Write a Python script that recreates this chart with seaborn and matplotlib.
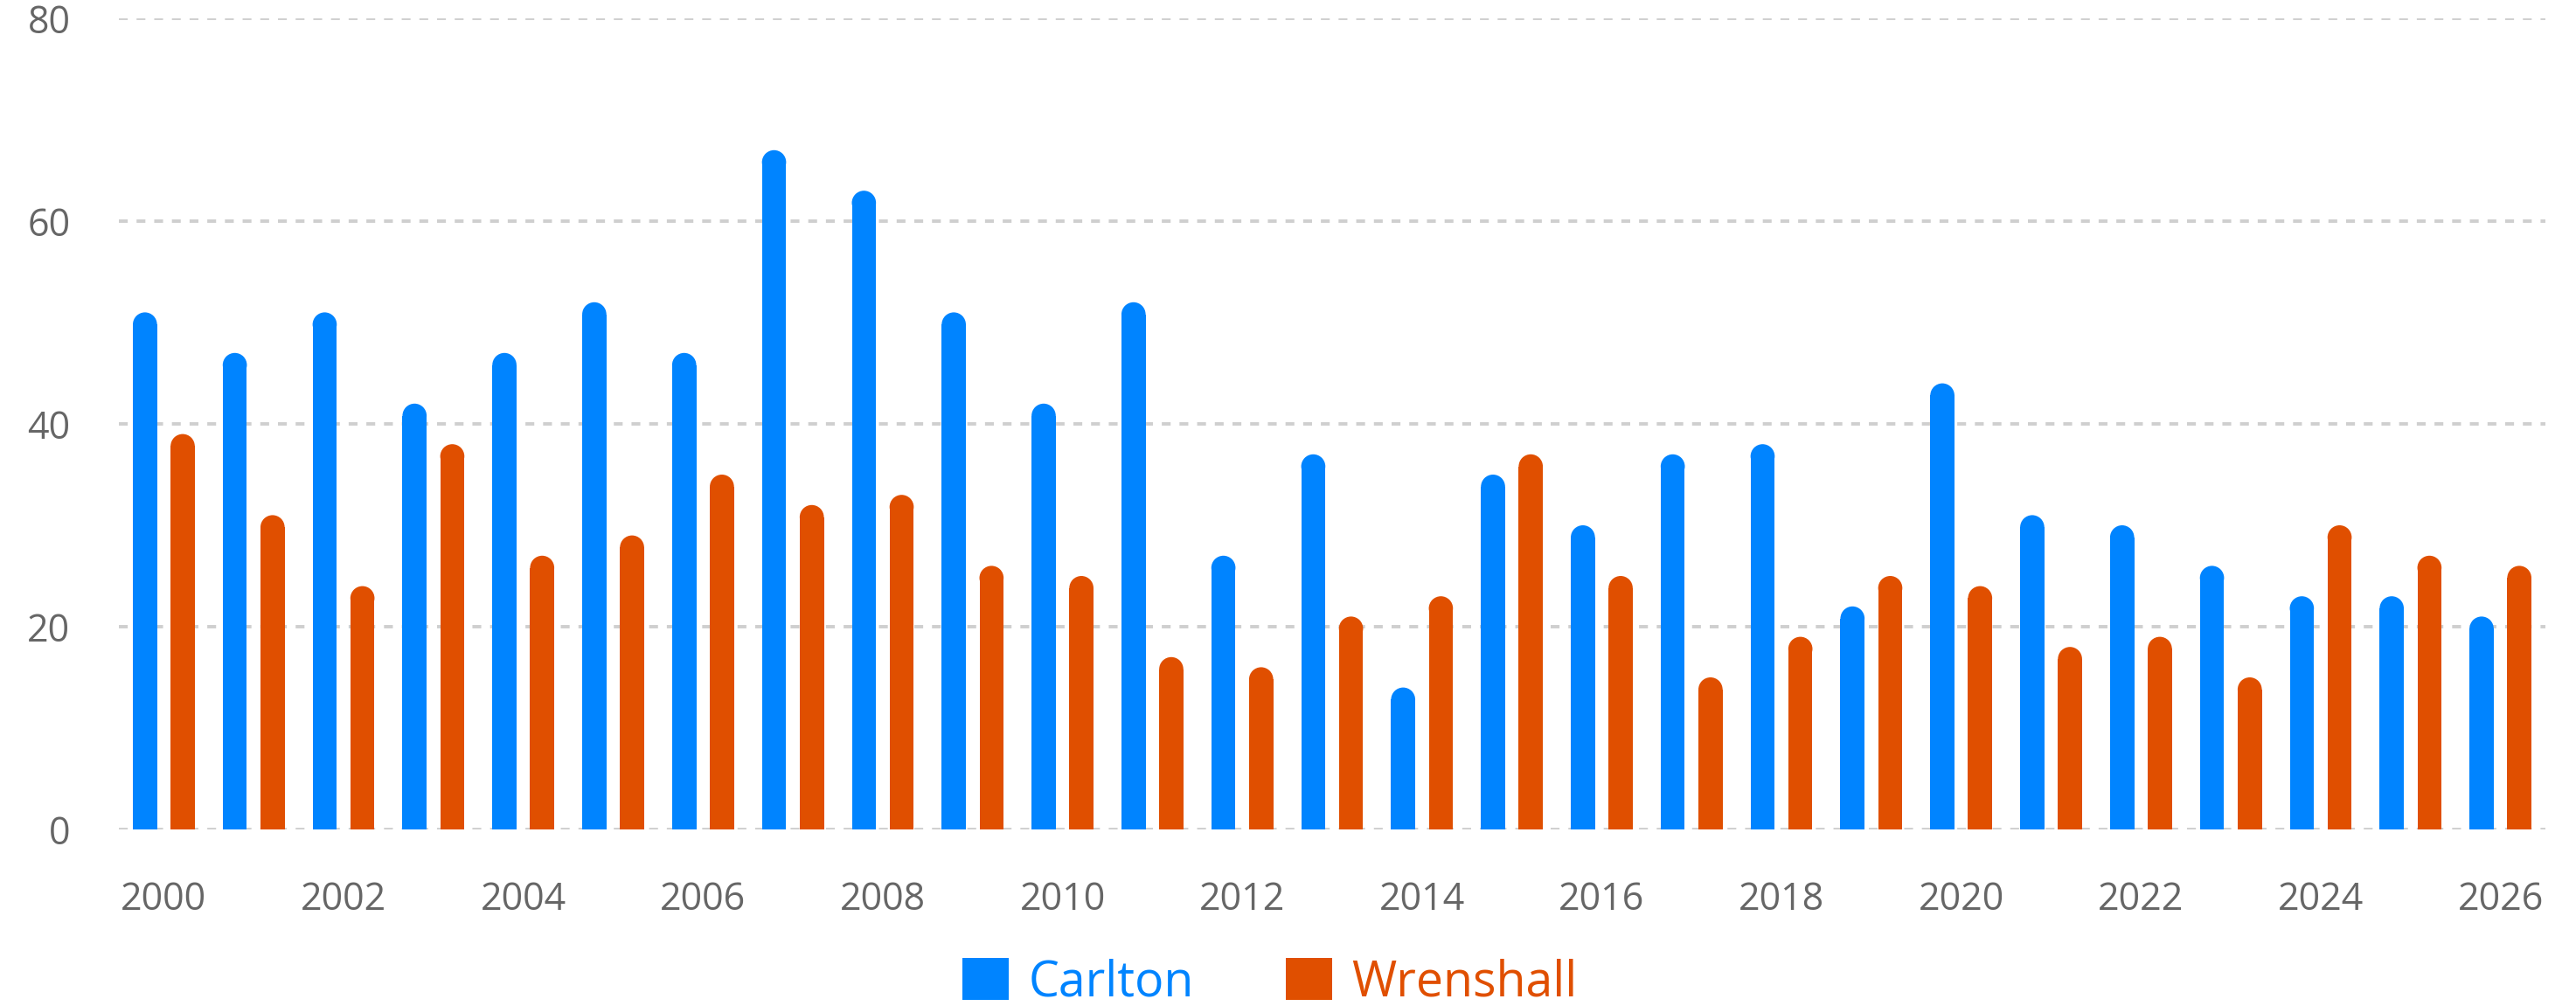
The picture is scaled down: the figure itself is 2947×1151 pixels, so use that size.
import numpy as np
import pandas as pd
import matplotlib
matplotlib.use('Agg')
import matplotlib.pyplot as plt
import seaborn as sns
from matplotlib.patches import Ellipse, Rectangle

years = list(range(2000, 2027))
carlton = [51, 47, 51, 42, 47, 52, 47, 67, 63, 51, 42, 52, 27, 37, 14,
           35, 30, 37, 38, 22, 44, 31, 30, 26, 23, 23, 21]
wrenshall = [39, 31, 24, 38, 27, 29, 35, 32, 33, 26, 25, 17, 16, 21, 23,
             37, 25, 15, 19, 25, 24, 18, 19, 15, 30, 27, 26]
series = ['Carlton', 'Wrenshall']
colors = {'Carlton': '#0084FF', 'Wrenshall': '#E04F00'}

df = pd.DataFrame({
    'Year': years * 2,
    'Value': carlton + wrenshall,
    'Series': ['Carlton'] * len(years) + ['Wrenshall'] * len(years),
})

sns.set_style('white')
plt.rcParams['font.family'] = ['Open Sans', 'DejaVu Sans']

W, H = 2947, 1151
fig = plt.figure(figsize=(W / 100, H / 100), dpi=100)
ax = fig.add_axes([136 / W, 1 - 949 / H, (2912 - 136) / W, (949 - 21) / H])

sns.barplot(data=df, x='Year', y='Value', hue='Series', palette=colors,
            width=0.84, gap=0.36, ax=ax, legend=False, saturation=1)

ax.set_ylim(0, 80)
ax.set_xlim(-0.5, len(years) - 0.5)
ax.set_yticks([0, 20, 40, 60, 80])
ax.set_xticks(range(0, len(years), 2))
ax.set_xticklabels([str(y) for y in years[::2]])
ax.set_xlabel('')
ax.set_ylabel('')
sns.despine(ax=ax, left=True, bottom=True)
ax.tick_params(axis='both', length=0, labelsize=31, colors='#666666')
ax.tick_params(axis='y', pad=40)
ax.tick_params(axis='x', pad=42)
ax.set_axisbelow(True)
ax.yaxis.grid(True, color='#cfcfcf', linewidth=2.8, linestyle=(0, (2.6, 2.6)))
ax.xaxis.grid(False)

# rounded tops on bars
bbox = ax.get_window_extent()
px_x = bbox.width / (len(years))
px_y = bbox.height / 80
for p in list(ax.patches):
    h = p.get_height()
    if h <= 0:
        continue
    w = p.get_width()
    r = (w / 2 * px_x) / px_y
    p.set_height(h - r)
    p.set_linewidth(0)
    cap = Ellipse((p.get_x() + w / 2, h - r), width=w, height=2 * r,
                  facecolor=p.get_facecolor(), edgecolor='none', zorder=p.get_zorder())
    ax.add_patch(cap)

handles = [Rectangle((0, 0), 1, 1, facecolor=colors[s], edgecolor='none') for s in series]
leg = fig.legend(handles, series, loc='center', bbox_to_anchor=(773 / 1568, 1 - 598 / 612),
                 ncol=2, frameon=False, fontsize=40, handlelength=0.95, handleheight=0.95,
                 handletextpad=0.4, columnspacing=1.9)
for t, s in zip(leg.get_texts(), series):
    t.set_color(colors[s])

fig.savefig('out.png', dpi=100)
